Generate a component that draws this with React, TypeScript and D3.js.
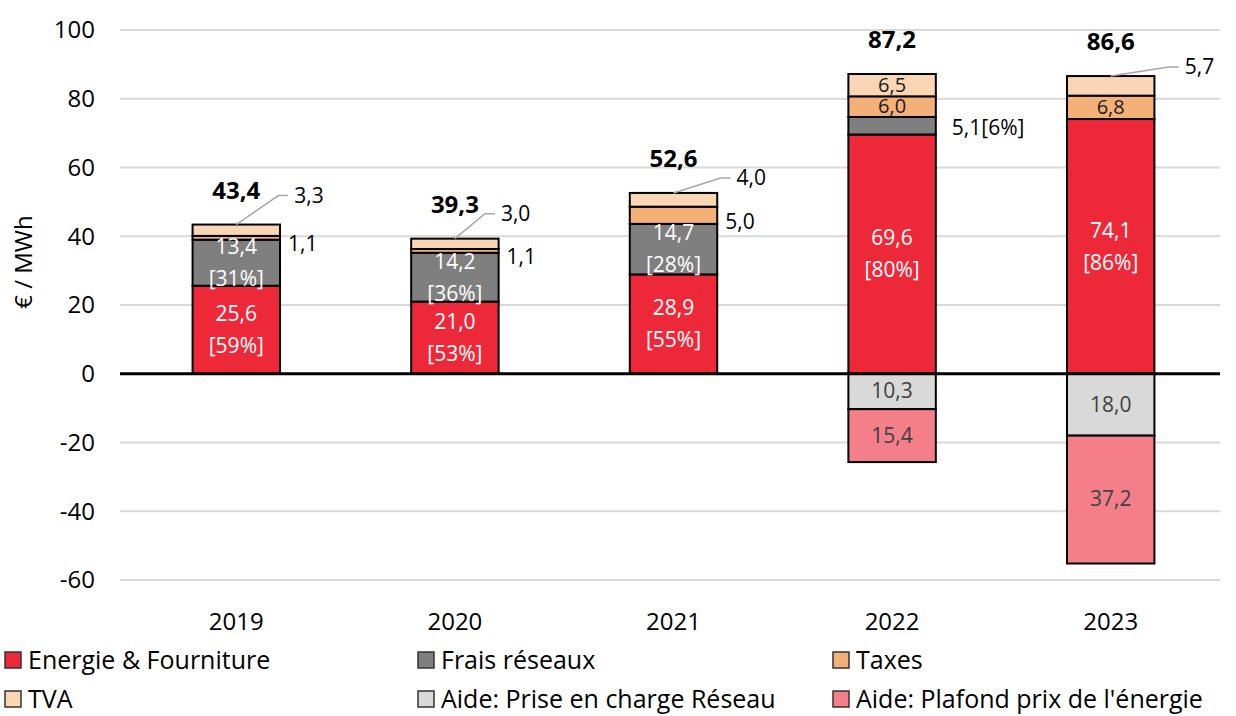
import React from 'react';
import * as d3 from 'd3';

// values in € / MWh
const years = ['2019', '2020', '2021', '2022', '2023'];
const energie = [25.6, 21.0, 28.9, 69.6, 74.1];
const fraisReseaux = [13.4, 14.2, 14.7, 5.1, 0];
const taxes = [1.1, 1.1, 5.0, 6.0, 6.8];
const tva = [3.3, 3.0, 4.0, 6.5, 5.7];
const aideReseau = [0, 0, 0, -10.3, -18.0];
const aidePlafond = [0, 0, 0, -15.4, -37.2];
const yTicks = [-60, -40, -20, 0, 20, 40, 60, 80, 100];

const series = [
  { key: 'energie', name: 'Energie & Fourniture', values: energie, color: '#ED2939', text: '#fff', pct: true },
  { key: 'frais', name: 'Frais réseaux', values: fraisReseaux, color: '#7F7F7F', text: '#fff', pct: true },
  { key: 'taxes', name: 'Taxes', values: taxes, color: '#F4B177', text: '#1a1a1a', pct: false },
  { key: 'tva', name: 'TVA', values: tva, color: '#FAD6B4', text: '#1a1a1a', pct: false, callout: true },
  { key: 'aideR', name: 'Aide: Prise en charge Réseau', values: aideReseau, color: '#D9D9D9', text: '#404040', pct: false },
  { key: 'aideP', name: "Aide: Plafond prix de l'énergie", values: aidePlafond, color: '#F47F89', text: '#404040', pct: false },
];

// legend order (3 columns)
const legendOrder = ['energie', 'frais', 'taxes', 'tva', 'aideR', 'aideP'];

// callout offsets for the TVA labels (layout only)
const calloutOffsets: ([number, number] | null)[] = [[42, -29], [30, -25], [47, -15], null, [58, -9]];

const W = 1236;
const H = 716;
const FONT = '"Open Sans", Lato, sans-serif';

const fmt = (v: number) => Math.abs(v).toFixed(1).replace('.', ',');

export default function App() {
  const x = d3.scaleBand().domain(years).range([127, 1220]).paddingInner(0.6).paddingOuter(0.3);
  const y = d3.scaleLinear().domain([-60, 100]).range([580, 30]);

  const table = years.map((yr, i) => {
    const row: any = { year: yr };
    series.forEach(s => { row[s.key] = s.values[i]; });
    return row;
  });
  const totals = years.map((_, i) => energie[i] + fraisReseaux[i] + taxes[i] + tva[i]);

  const stacked = d3.stack<any>()
    .keys(series.map(s => s.key))
    .offset(d3.stackOffsetDiverging)(table);

  const bw = x.bandwidth();

  return (
    <svg width={W} height={H} style={{ position: 'absolute', left: 0, top: 0, fontFamily: FONT }}>
      <rect width={W} height={H} fill="#fff" />
      {/* grid */}
      {yTicks.map(t => (
        <g key={t}>
          {t !== 0 && <line x1={120} x2={1220} y1={y(t)} y2={y(t)} stroke="#D9D9D9" strokeWidth={2} />}
          <text x={95} y={y(t)} dy="0.35em" textAnchor="end" fontSize={24} fill="#000">{t}</text>
        </g>
      ))}
      <text transform={`translate(24,${262}) rotate(-90)`} dy="0.35em" textAnchor="middle" fontSize={24} fill="#000">€ / MWh</text>

      {/* bars */}
      {stacked.map((layer, si) => {
        const s = series[si];
        return (
          <g key={s.key}>
            {layer.map((d, i) => {
              const v = s.values[i];
              if (v === 0) return null;
              const y0 = y(Math.max(d[0], d[1]));
              const y1 = y(Math.min(d[0], d[1]));
              return (
                <rect key={i} x={x(years[i])} y={y0} width={bw} height={y1 - y0}
                  fill={s.color} stroke="#000" strokeWidth={2} />
              );
            })}
          </g>
        );
      })}

      {/* zero line */}
      <line x1={120} x2={1220} y1={y(0)} y2={y(0)} stroke="#000" strokeWidth={3} />

      {/* segment labels */}
      {stacked.map((layer, si) => {
        const s = series[si];
        return (
          <g key={s.key}>
            {layer.map((d, i) => {
              const v = s.values[i];
              if (v === 0) return null;
              const cx = (x(years[i]) as number) + bw / 2;
              const right = (x(years[i]) as number) + bw + 8;
              const top = y(Math.max(d[0], d[1]));
              const mid = y((d[0] + d[1]) / 2);
              const pct = Math.round((v / totals[i]) * 100);
              if (Math.abs(v) >= 6) {
                if (s.pct) {
                  return (
                    <text key={i} x={cx} textAnchor="middle" fontSize={21} fill={s.text}>
                      <tspan x={cx} y={mid - 16} dy="0.35em">{fmt(v)}</tspan>
                      <tspan x={cx} y={mid + 16} dy="0.35em">[{pct}%]</tspan>
                    </text>
                  );
                }
                const small = Math.abs(v) < 8;
                return (
                  <text key={i} x={cx} y={mid} dy="0.33em" textAnchor="middle" fontSize={small ? 20 : 21} fill={s.text}>{fmt(v)}</text>
                );
              }
              if (s.callout) {
                const off = calloutOffsets[i] || [45, -20];
                const px = cx + off[0];
                const py = top + off[1];
                return (
                  <g key={i}>
                    <path d={`M${cx},${top}L${px},${py}H${px + 10}`} fill="none" stroke="#A6A6A6" strokeWidth={1.5} />
                    <text x={px + 16} y={py} dy="0.35em" fontSize={21} fill="#000">{fmt(v)}</text>
                  </g>
                );
              }
              return (
                <text key={i} x={right + (s.pct ? 8 : 0)} y={mid + (s.pct ? 2 : 6)} dy="0.35em" fontSize={21} fill="#000">
                  {fmt(v)}{s.pct ? `[${pct}%]` : ''}
                </text>
              );
            })}
          </g>
        );
      })}

      {/* totals */}
      {totals.map((t, i) => (
        <text key={i} x={(x(years[i]) as number) + bw / 2} y={y(t) - 34} dy="0.35em"
          textAnchor="middle" fontSize={24} fontWeight="bold" fill="#000">{fmt(t)}</text>
      ))}

      {/* x axis labels */}
      {years.map(yr => (
        <text key={yr} x={(x(yr) as number) + bw / 2} y={622} dy="0.35em" textAnchor="middle" fontSize={24} fill="#000">{yr}</text>
      ))}

      {/* legend */}
      {legendOrder.map((k, j) => {
        const s = series.find(d => d.key === k)!;
        const lx = [5, 418, 833][j % 3];
        const ly = [660, 699][Math.floor(j / 3)];
        return (
          <g key={k} transform={`translate(${lx},${ly})`}>
            <rect x={0} y={-8} width={16} height={16} fill={s.color} stroke="#333" strokeWidth={1.5} />
            <text x={23} y={0} dy="0.35em" fontSize={25} fill="#000">{s.name}</text>
          </g>
        );
      })}
    </svg>
  );
}
